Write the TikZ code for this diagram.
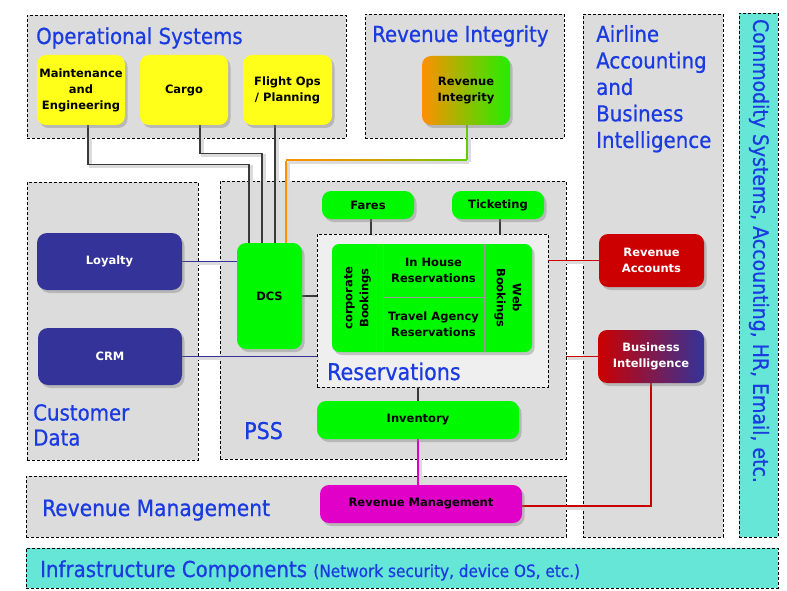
\documentclass[tikz,border=0pt]{standalone}
\usepackage{fontspec}
\setmainfont{DejaVu Sans}
\newfontfamily\ttlfont[FakeBold=0.7]{DejaVu Sans Condensed}
\usetikzlibrary{shadows,calc}
\definecolor{regiongrey}{HTML}{DCDCDC}
\definecolor{resgrey}{HTML}{EFEFEF}
\definecolor{cyanbox}{HTML}{66E6D6}
\definecolor{ylw}{HTML}{FFFF1A}
\definecolor{grn}{HTML}{00F800}
\definecolor{navy}{HTML}{333399}
\definecolor{redbox}{HTML}{CC0000}
\definecolor{mag}{HTML}{E000C8}
\definecolor{titleblue}{HTML}{1A3BE0}
\definecolor{riorange}{HTML}{FF9000}
\definecolor{rigreen}{HTML}{22EE00}
\definecolor{linegreen}{HTML}{66CC00}
\definecolor{linegrey}{HTML}{3A3A3A}
\newcommand\nbfont{\fontsize{11.5}{16}\selectfont\bfseries}
\pgfdeclarelayer{back}
\pgfdeclarelayer{mid}
\pgfsetlayers{back,mid,main}
\begin{document}
\begin{tikzpicture}[x=1pt,y=-1pt,
  region/.style={draw=black, dash pattern=on 3pt off 2pt, line width=0.6pt,
    fill=regiongrey, anchor=north west, inner sep=0pt, outer sep=0pt},
  sys/.style={rounded corners=9pt, inner sep=2pt, align=center, font=\nbfont,
    drop shadow={shadow xshift=2.5pt, shadow yshift=-3pt, opacity=.4}},
  title/.style={text=titleblue, inner sep=0pt, font=\ttlfont\fontsize{22}{26.5}\selectfont},
  conn/.style={draw=#1, line width=1.2pt,
    preaction={draw=black!14, line width=3pt, transform canvas={xshift=2pt,yshift=-2pt}}},
  conn/.default=linegrey,
  divider/.style={draw=black!40, line width=0.6pt},
  inner/.style={inner sep=0pt, align=center, font=\nbfont}
]
\useasboundingbox (0,0) rectangle (787,591);

% ---------- regions ----------
\begin{pgfonlayer}{back}
\node[region, minimum width=319, minimum height=123] (ops) at (27,15) {};
\node[region, minimum width=199, minimum height=124] (rireg) at (365,14) {};
\node[region, minimum width=140, minimum height=523] (acct) at (583,14) {};
\node[region, fill=cyanbox, minimum width=39, minimum height=524] (comm) at (739,13) {};
\node[region, minimum width=171, minimum height=278] (cust) at (27,182) {};
\node[region, minimum width=346, minimum height=278] (pss) at (220,181) {};
\node[region, minimum width=540, minimum height=61] (rmreg) at (26,476) {};
\node[region, fill=cyanbox, minimum width=752, minimum height=40] (infra) at (26,548) {};
\node[region, fill=resgrey, minimum width=231, minimum height=153] (resbox) at (317,234) {};
\end{pgfonlayer}

% ---------- region titles ----------
\node[title, anchor=base west] (t-ops) at (36,44) {Operational Systems};
\node[title, anchor=base west] (t-ri) at (372,42) {Revenue Integrity};
\node[title, anchor=north west, align=left] (t-acct) at (596,25) {Airline\\Accounting\\and\\Business\\Intelligence};
\node[title, rotate=-90, font=\ttlfont\fontsize{21}{24}\selectfont] (t-comm) at (759,251) {Commodity Systems, Accounting, HR, Email, etc.};
\node[title, anchor=north west, align=left, font=\ttlfont\fontsize{22}{25}\selectfont] (t-cust) at (33,404) {Customer\\Data};
\node[title, anchor=base west, font=\ttlfont\fontsize{23}{26}\selectfont] (t-pss) at (244,439) {PSS};
\node[title, anchor=base west, font=\ttlfont\fontsize{23}{26}\selectfont] (t-res) at (327,380) {Reservations};
\node[title, anchor=base west, font=\ttlfont\fontsize{22.5}{26}\selectfont] (t-rm) at (42,516) {Revenue Management};
\node[title, anchor=base west] (t-infra) at (40,577) {Infrastructure Components {\fontsize{17}{20}\selectfont(Network security, device OS, etc.)}};

% ---------- systems ----------
\node[sys, fill=ylw, minimum width=88, minimum height=70] (mae) at (81,90) {Maintenance\\and\\Engineering};
\node[sys, fill=ylw, minimum width=88, minimum height=70] (cargo) at (184,90) {Cargo};
\node[sys, fill=ylw, minimum width=89, minimum height=70] (fo) at (287.5,90) {Flight Ops\\/ Planning};
\node[sys, left color=riorange, right color=rigreen, minimum width=88, minimum height=69] (ri) at (466,90.5) {Revenue\\Integrity};

\node[sys, fill=grn, minimum width=92, minimum height=28] (fares) at (368,205) {Fares};
\node[sys, fill=grn, minimum width=92, minimum height=28] (tick) at (498,205) {Ticketing};
\node[sys, fill=grn, minimum width=65, minimum height=106] (dcs) at (269.5,296) {DCS};
\node[sys, fill=grn, rounded corners=7pt, minimum width=200, minimum height=108] (resv) at (432,298) {};
\node[sys, fill=grn, minimum width=202, minimum height=38] (inv) at (418,420) {Inventory};

\node[sys, fill=navy, text=white, rounded corners=10pt, minimum width=145, minimum height=57] (loy) at (109.5,261.5) {Loyalty};
\node[sys, fill=navy, text=white, rounded corners=10pt, minimum width=144, minimum height=57] (crm) at (110,356.5) {CRM};

\node[sys, fill=redbox, text=white, minimum width=105, minimum height=53] (revacc) at (651.5,260.5) {Revenue\\Accounts};
\node[sys, left color=redbox, right color=navy, text=white, minimum width=106, minimum height=53] (bi) at (651,356.5) {Business\\Intelligence};

\node[sys, fill=mag, minimum width=202, minimum height=38] (rm) at (421,504) {Revenue Management};

% ---------- reservations block inside ----------
\draw[divider] ([xshift=51pt]resv.north west) -- ([xshift=51pt]resv.south west);
\draw[divider] ([xshift=152pt]resv.north west) -- ([xshift=152pt]resv.south west);
\draw[divider] ([xshift=51pt,yshift=-53pt]resv.north west) -- ([xshift=152pt,yshift=-53pt]resv.north west);
\node[inner, rotate=90] (corp) at (357.5,298) {corporate\\Bookings};
\node[inner, rotate=-90] (web) at (508,298) {Web\\Bookings};
\node[inner] (inhouse) at (433.5,270) {In House\\Reservations};
\node[inner] (travel) at (433.5,324) {Travel Agency\\Reservations};

% ---------- connectors ----------
\begin{pgfonlayer}{mid}
\draw[conn] ([xshift=7pt]mae.south) -- ++(0,39) -| ([xshift=-20.5pt]dcs.north);
\draw[conn] ([xshift=16pt]cargo.south) -- ++(0,28) -| ([xshift=-7.5pt]dcs.north);
\draw[conn] ([xshift=-12.5pt]fo.south) -- ([xshift=-12.5pt]fo.south |- dcs.north);
\draw[conn=linegreen] ([xshift=1pt]ri.south) -- ++(0,35) coordinate (rk);
\coordinate (rj) at ([xshift=16.5pt]dcs.north |- rk);
\fill[black!14] ([xshift=2pt,yshift=-0.5pt]rj) rectangle ([xshift=2pt,yshift=-3.5pt]rk);
\shade[left color=riorange, right color=linegreen, middle color=riorange!70!linegreen]
  ([yshift=0.6pt]rj) rectangle ([yshift=-0.6pt]rk);
\draw[conn=riorange] ([yshift=-0.6pt]rj) -- ([xshift=16.5pt]dcs.north);

\draw[conn=navy] (loy.east) -- (loy.east -| dcs.west);
\draw[conn=navy] (crm.east) -- (crm.east -| resbox.west);
\draw[conn] (dcs.east) -- (dcs.east -| resbox.west);
\draw[conn] ([xshift=3pt]fares.south) -- ([xshift=3pt]fares.south |- resbox.north);
\draw[conn] ([xshift=2pt]tick.south) -- ([xshift=2pt]tick.south |- resbox.north);
\draw[conn=redbox] (revacc.west -| resbox.east) -- (revacc.west);
\draw[conn=redbox] (bi.west -| pss.east) -- (bi.west);
\draw[conn] (inv.north) -- (inv.north |- resbox.south);
\draw[conn=mag] (inv.south) -- (inv.south |- rm.north);
\draw[conn=redbox] (bi.south) |- ([yshift=-2pt]rm.east);
\end{pgfonlayer}
\end{tikzpicture}
\end{document}
